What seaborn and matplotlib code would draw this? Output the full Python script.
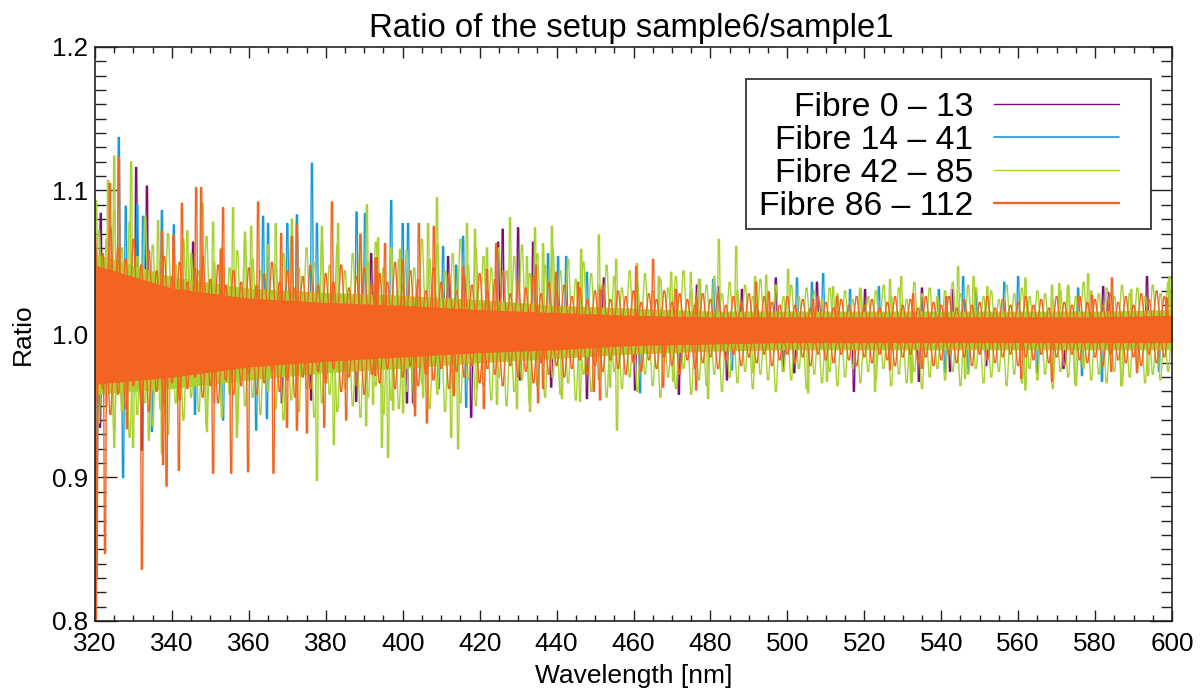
import pandas as pd
import matplotlib
matplotlib.use("Agg")
import matplotlib.pyplot as plt
import seaborn as sns
from matplotlib.lines import Line2D
from matplotlib.patches import Rectangle
from matplotlib.ticker import MultipleLocator

labels = ["Fibre 0 \u2013 13", "Fibre 14 \u2013 41", "Fibre 42 \u2013 85", "Fibre 86 \u2013 112"]
colors = ["#7a0d78", "#189ad8", "#a8d233", "#f36421"]

# solid core of the spectra, read every 20 nm
band_wl = [320, 340, 360, 380, 400, 420, 440, 460, 480, 500, 520, 540, 560, 580, 600]
orange_hi = [1.048, 1.032, 1.025, 1.022, 1.020, 1.017, 1.015, 1.013, 1.012, 1.012, 1.012, 1.012, 1.012, 1.012, 1.013]
orange_lo = [0.965, 0.970, 0.977, 0.981, 0.984, 0.987, 0.989, 0.992, 0.993, 0.994, 0.994, 0.994, 0.994, 0.994, 0.994]
green_hi = [1.056, 1.040, 1.032, 1.029, 1.027, 1.024, 1.020, 1.018, 1.016, 1.016, 1.016, 1.016, 1.016, 1.016, 1.017]
green_lo = [0.958, 0.962, 0.968, 0.973, 0.976, 0.980, 0.983, 0.986, 0.988, 0.989, 0.989, 0.989, 0.989, 0.989, 0.989]

# the jagged mass around the core, read every 2 nm
green_tooth_wl = list(range(321, 601, 2))
orange_tooth_wl = list(range(320, 600, 2))
green_up = [1.072, 1.066, 1.086, 1.060, 1.078, 1.054, 1.082, 1.062, 1.052, 1.070,
            1.048, 1.066, 1.056, 1.044, 1.068, 1.050, 1.060, 1.046, 1.058, 1.066,
            1.052, 1.044, 1.062, 1.048, 1.056, 1.068, 1.046, 1.060, 1.050, 1.064,
            1.048, 1.062, 1.044, 1.056, 1.070, 1.050, 1.064, 1.046, 1.060, 1.052,
            1.058, 1.046, 1.066, 1.052, 1.062, 1.044, 1.056, 1.066, 1.048, 1.060,
            1.054, 1.046, 1.060, 1.044, 1.054, 1.062, 1.042, 1.056, 1.048, 1.060,
            1.044, 1.052, 1.038, 1.050, 1.042, 1.034, 1.048, 1.040, 1.032, 1.044,
            1.036, 1.042, 1.030, 1.038, 1.032, 1.040, 1.044, 1.030, 1.038, 1.034,
            1.040, 1.028, 1.036, 1.030, 1.034, 1.026, 1.038, 1.030, 1.034, 1.026,
            1.034, 1.026, 1.032, 1.030, 1.024, 1.032, 1.028, 1.030, 1.024, 1.032,
            1.026, 1.030, 1.034, 1.026, 1.032, 1.024, 1.036, 1.028, 1.032, 1.026,
            1.030, 1.036, 1.028, 1.034, 1.032, 1.026, 1.030, 1.024, 1.034, 1.028,
            1.032, 1.026, 1.030, 1.028, 1.024, 1.030, 1.034, 1.026, 1.036, 1.030,
            1.028, 1.032, 1.026, 1.034, 1.028, 1.032, 1.026, 1.034, 1.028, 1.036]
green_down = [0.938, 0.950, 0.932, 0.946, 0.928, 0.944, 0.952, 0.936, 0.948, 0.930,
              0.952, 0.940, 0.956, 0.946, 0.936, 0.952, 0.942, 0.958, 0.938, 0.950,
              0.956, 0.944, 0.960, 0.948, 0.940, 0.954, 0.946, 0.962, 0.942, 0.952,
              0.958, 0.946, 0.962, 0.950, 0.942, 0.956, 0.964, 0.944, 0.954, 0.948,
              0.960, 0.950, 0.966, 0.948, 0.958, 0.946, 0.962, 0.952, 0.968, 0.950,
              0.964, 0.954, 0.970, 0.950, 0.960, 0.968, 0.952, 0.964, 0.956, 0.970,
              0.958, 0.966, 0.954, 0.972, 0.960, 0.968, 0.956, 0.974, 0.962, 0.970,
              0.960, 0.972, 0.964, 0.956, 0.970, 0.962, 0.976, 0.958, 0.968, 0.964,
              0.972, 0.960, 0.970, 0.966, 0.974, 0.962, 0.972, 0.968, 0.960, 0.974,
              0.968, 0.976, 0.962, 0.972, 0.966, 0.974, 0.964, 0.970, 0.976, 0.966,
              0.974, 0.968, 0.976, 0.964, 0.972, 0.966, 0.974, 0.962, 0.970, 0.976,
              0.968, 0.974, 0.964, 0.972, 0.976, 0.966, 0.970, 0.974, 0.964, 0.972,
              0.966, 0.976, 0.968, 0.972, 0.962, 0.974, 0.970, 0.964, 0.976, 0.968,
              0.972, 0.966, 0.974, 0.964, 0.970, 0.976, 0.966, 0.972, 0.968, 0.974]
orange_up = [1.068, 1.056, 1.074, 1.060, 1.052, 1.066, 1.048, 1.058, 1.044, 1.054,
             1.040, 1.050, 1.036, 1.046, 1.054, 1.038, 1.048, 1.034, 1.044, 1.036,
             1.046, 1.034, 1.042, 1.050, 1.036, 1.044, 1.032, 1.040, 1.048, 1.034,
             1.042, 1.036, 1.048, 1.032, 1.040, 1.046, 1.034, 1.042, 1.036, 1.050,
             1.034, 1.044, 1.038, 1.030, 1.046, 1.036, 1.042, 1.030, 1.040, 1.034,
             1.042, 1.030, 1.038, 1.044, 1.028, 1.036, 1.032, 1.040, 1.028, 1.036,
             1.030, 1.034, 1.026, 1.032, 1.024, 1.030, 1.034, 1.024, 1.030, 1.026,
             1.030, 1.022, 1.028, 1.024, 1.030, 1.022, 1.028, 1.024, 1.020, 1.028,
             1.024, 1.028, 1.020, 1.026, 1.022, 1.028, 1.020, 1.026, 1.022, 1.020,
             1.026, 1.020, 1.024, 1.018, 1.026, 1.022, 1.018, 1.024, 1.020, 1.026,
             1.020, 1.024, 1.018, 1.022, 1.026, 1.020, 1.024, 1.018, 1.026, 1.022,
             1.020, 1.026, 1.018, 1.024, 1.020, 1.022, 1.026, 1.018, 1.024, 1.020,
             1.022, 1.026, 1.020, 1.024, 1.018, 1.026, 1.022, 1.020, 1.026, 1.022,
             1.024, 1.020, 1.028, 1.022, 1.026, 1.020, 1.028, 1.024, 1.030, 1.026]
orange_down = [0.950, 0.962, 0.944, 0.958, 0.948, 0.964, 0.952, 0.946, 0.960, 0.950,
               0.966, 0.954, 0.962, 0.970, 0.956, 0.964, 0.952, 0.968, 0.958, 0.964,
               0.972, 0.958, 0.966, 0.974, 0.960, 0.968, 0.956, 0.970, 0.962, 0.974,
               0.966, 0.976, 0.960, 0.970, 0.964, 0.958, 0.972, 0.966, 0.976, 0.962,
               0.970, 0.978, 0.964, 0.972, 0.968, 0.976, 0.962, 0.974, 0.970, 0.978,
               0.966, 0.976, 0.972, 0.964, 0.978, 0.970, 0.974, 0.966, 0.980, 0.972,
               0.978, 0.970, 0.976, 0.982, 0.972, 0.978, 0.974, 0.982, 0.976, 0.972,
               0.980, 0.974, 0.982, 0.976, 0.984, 0.978, 0.972, 0.982, 0.976, 0.980,
               0.984, 0.976, 0.982, 0.986, 0.978, 0.984, 0.980, 0.986, 0.978, 0.982,
               0.986, 0.980, 0.984, 0.978, 0.986, 0.982, 0.980, 0.986, 0.982, 0.978,
               0.984, 0.980, 0.986, 0.982, 0.978, 0.984, 0.986, 0.980, 0.984, 0.978,
               0.982, 0.986, 0.980, 0.984, 0.978, 0.986, 0.982, 0.980, 0.984, 0.986,
               0.978, 0.984, 0.982, 0.986, 0.980, 0.984, 0.978, 0.986, 0.982, 0.980,
               0.984, 0.978, 0.986, 0.982, 0.980, 0.984, 0.978, 0.986, 0.980, 0.984]

# spikes standing out of the mass, one (wavelength, ratio) per position
purple_wl = [321.5, 330.7, 333.5, 345.5, 391.8, 426.0, 430.0, 424.8, 433.9, 411.8, 452.3, 476.5, 482.0, 488.2, 497.0,
             507.7, 520.2, 535.0, 542.8, 593.5, 582.1, 583.4, 321.3, 332.2, 368.6, 376.2, 387.9, 417.8, 438.6, 447.9,
             460.4, 402.7, 401.1, 430.5, 471.8, 517.3, 484.3, 498.9, 501.8, 534.2, 571.8, 542.3, 551.7]
purple_ratio = [1.084, 1.116, 1.103, 1.064, 1.056, 1.073, 1.074, 1.064, 1.064, 1.054, 1.039, 1.034, 1.033, 1.031, 1.039,
                1.036, 1.031, 1.032, 1.031, 1.040, 1.033, 1.029, 0.935, 0.919, 0.952, 0.954, 0.953, 0.942, 0.963, 0.955,
                0.961, 0.952, 0.952, 0.968, 0.958, 0.960, 0.968, 0.974, 0.973, 0.967, 0.976, 0.974, 0.978]
blue_wl = [326.2, 376.4, 337.4, 388.0, 390.2, 363.7, 365.0, 370.0, 372.5, 377.7, 332.5, 328.0, 331.0, 340.5, 397.0,
           400.0, 401.4, 415.7, 410.5, 413.9, 437.8, 440.4, 442.5, 447.9, 509.3, 502.5, 506.4, 480.7, 516.3, 523.8,
           539.4, 560.0, 556.4, 545.7, 575.6, 549.0, 320.5, 327.3, 334.8, 346.0, 361.9, 353.3, 364.7, 416.5, 461.7,
           409.4, 541.0, 485.6, 576.6, 581.8, 547.0, 564.9, 596.6]
blue_ratio = [1.137, 1.119, 1.086, 1.085, 1.084, 1.082, 1.077, 1.077, 1.083, 1.077, 1.082, 1.089, 1.090, 1.076, 1.093,
              1.077, 1.077, 1.068, 1.061, 1.048, 1.056, 1.054, 1.054, 1.043, 1.042, 1.039, 1.036, 1.038, 1.031, 1.033,
              1.031, 1.040, 1.036, 1.040, 1.032, 1.032, 0.905, 0.900, 0.932, 0.944, 0.933, 0.940, 0.941, 0.949, 0.959,
              0.962, 0.973, 0.975, 0.971, 0.967, 0.973, 0.973, 0.974]
green_wl = [325.0, 329.4, 323.4, 320.3, 336.4, 348.0, 350.7, 355.9, 360.6, 359.0, 367.0, 371.2, 379.0, 383.2, 390.7,
            344.0, 393.6, 408.9, 406.6, 416.7, 418.8, 427.9, 434.4, 438.8, 421.9, 451.0, 446.4, 436.5, 432.3, 455.5,
            460.9, 466.6, 399.3, 482.2, 486.7, 469.8, 474.9, 491.6, 494.5, 500.2, 511.9, 526.7, 529.6, 544.4, 477.3,
            518.9, 548.4, 561.9, 568.8, 570.7, 578.2, 589.4, 599.3, 552.0, 573.0,
            377.7, 382.1, 349.1, 329.9, 325.0, 337.4, 356.9, 390.5, 334.0, 396.2, 394.6, 414.4, 412.6, 455.7, 446.1,
            441.4, 433.1, 429.7, 419.3, 424.5, 400.1, 392.3, 397.5, 405.3, 453.9, 479.4, 505.4, 522.8, 510.3, 532.2,
            470.3, 491.1, 561.9, 532.2, 586.8, 574.8, 546.2, 593.8]
green_ratio = [1.124, 1.120, 1.107, 1.093, 1.079, 1.091, 1.078, 1.088, 1.075, 1.071, 1.077, 1.080, 1.075, 1.077, 1.090,
               1.072, 1.067, 1.095, 1.077, 1.077, 1.073, 1.081, 1.074, 1.075, 1.060, 1.069, 1.059, 1.063, 1.054, 1.052,
               1.049, 1.040, 1.059, 1.066, 1.061, 1.043, 1.043, 1.040, 1.041, 1.045, 1.033, 1.038, 1.040, 1.047, 1.038,
               1.031, 1.040, 1.039, 1.034, 1.035, 1.042, 1.031, 1.040, 1.033, 1.033,
               0.898, 0.923, 0.932, 0.921, 0.921, 0.917, 0.928, 0.936, 0.926, 0.914, 0.921, 0.920, 0.928, 0.933, 0.953,
               0.955, 0.946, 0.948, 0.962, 0.951, 0.945, 0.951, 0.947, 0.956, 0.963, 0.955, 0.959, 0.960, 0.967, 0.967,
               0.967, 0.973, 0.961, 0.966, 0.964, 0.966, 0.969, 0.971]
orange_wl = [326.2, 323.9, 346.3, 347.6, 342.6, 353.3, 362.4, 381.6, 368.4, 372.5, 337.4, 340.4, 371.2, 352.7, 389.0,
             393.3, 404.2, 408.1, 395.4, 424.3, 465.1, 460.7, 434.7, 439.9, 415.7, 400.0, 421.9, 445.6, 451.3, 393.0,
             491.9, 471.0, 476.3, 495.2, 506.7, 532.7, 541.3, 512.9, 584.4, 579.2, 598.7,
             320.2, 320.4, 322.6, 332.2, 338.6, 337.7, 341.8, 350.7, 355.4, 359.8, 366.4, 369.9, 372.5, 375.1, 379.6,
             385.3, 328.3, 403.2, 406.3, 413.3, 421.1, 435.2, 451.3, 449.7, 392.8, 467.7, 436.5, 476.3, 526.7, 535.0,
             568.8, 560.8, 584.2, 590.9]
orange_ratio = [1.123, 1.105, 1.102, 1.102, 1.091, 1.088, 1.092, 1.092, 1.070, 1.076, 1.072, 1.069, 1.068, 1.059, 1.069,
                1.053, 1.077, 1.075, 1.063, 1.063, 1.052, 1.047, 1.048, 1.043, 1.047, 1.052, 1.045, 1.036, 1.031, 1.053,
                1.036, 1.031, 1.026, 1.029, 1.024, 1.028, 1.026, 1.026, 1.039, 1.027, 1.025,
                0.800, 0.830, 0.847, 0.836, 0.894, 0.909, 0.905, 0.903, 0.903, 0.904, 0.903, 0.935, 0.933, 0.931, 0.935,
                0.940, 0.934, 0.943, 0.938, 0.957, 0.948, 0.952, 0.954, 0.960, 0.971, 0.963, 0.962, 0.961, 0.975, 0.976,
                0.967, 0.969, 0.974, 0.973]


def spike_frame(wl, ratio, half_width):
    # every spike leaves the core and comes back to it, tip about 1 px wide
    rows = []
    for w, r in zip(wl, ratio):
        rows += [(w - half_width, 1.003), (w - 0.15, r), (w + 0.15, r), (w + half_width, 1.003)]
    return pd.DataFrame(rows, columns=["wl", "ratio"])


def draw_spikes(ax, wl, ratio, half_width, color, order):
    sns.lineplot(data=spike_frame(wl, ratio, half_width), x="wl", y="ratio", sort=False, estimator=None,
                 color=color, lw=1.0, ax=ax, zorder=order)


sns.set_theme(style="ticks")
plt.rcParams["font.family"] = ["Liberation Sans", "DejaVu Sans"]

fig, ax = plt.subplots(figsize=(12.04, 6.91), dpi=100)
fig.subplots_adjust(left=95 / 1204, right=1172 / 1204, top=1 - 47 / 691, bottom=1 - 621 / 691)

draw_spikes(ax, purple_wl, purple_ratio, 0.4, colors[0], 2)
draw_spikes(ax, blue_wl, blue_ratio, 0.4, colors[1], 3)
draw_spikes(ax, green_wl, green_ratio, 0.4, colors[2], 4)
draw_spikes(ax, green_tooth_wl, green_up, 0.9, colors[2], 4)
draw_spikes(ax, green_tooth_wl, green_down, 0.9, colors[2], 4)
ax.fill_between(band_wl, green_lo, green_hi, color=colors[2], lw=0, zorder=4)
draw_spikes(ax, orange_wl, orange_ratio, 0.4, colors[3], 6)
draw_spikes(ax, orange_tooth_wl, orange_up, 1.1, colors[3], 6)
draw_spikes(ax, orange_tooth_wl, orange_down, 1.1, colors[3], 6)
ax.fill_between(band_wl, orange_lo, orange_hi, color=colors[3], lw=0, zorder=6)

ax.set_xlim(320, 600)
ax.set_ylim(0.8, 1.2)
ax.xaxis.set_major_locator(MultipleLocator(20))
ax.xaxis.set_minor_locator(MultipleLocator(5))
ax.yaxis.set_major_locator(MultipleLocator(0.1))
ax.yaxis.set_minor_locator(MultipleLocator(0.01))
ax.tick_params(axis="x", which="major", direction="in", top=True, length=8, width=1.0, labelsize=18.7, pad=8,
               color="#222222", labelcolor="black")
ax.tick_params(axis="x", which="minor", direction="in", top=True, length=4, width=1.0, color="#222222")
ax.tick_params(axis="y", which="major", direction="in", right=True, length=16, width=1.0, labelsize=18.7, pad=5,
               color="#222222", labelcolor="black")
ax.tick_params(axis="y", which="minor", direction="in", right=True, length=8, width=1.0, color="#222222")
for s in ax.spines.values():
    s.set_visible(True)
    s.set_linewidth(1.2)
    s.set_color("#222222")
    s.set_zorder(10)

ax.set_title("Ratio of the setup sample6/sample1", fontsize=23.7, color="black", pad=7, x=0.498)
ax.set_xlabel("Wavelength [nm]", fontsize=19, color="black", labelpad=6)
ax.set_ylabel("Ratio", fontsize=19, color="black", labelpad=12)

# legend box is wider on the right than its content, so it is drawn apart
ax.add_patch(Rectangle((746 / 1204, 1 - 229 / 691), 405 / 1204, 150 / 691, transform=fig.transFigure,
                       facecolor="white", edgecolor="#222222", lw=1.2, zorder=19))
handles = [Line2D([], [], color=c, lw=w) for c, w in zip(colors, [1.0, 1.2, 1.0, 1.7])]
leg = ax.legend(handles, labels, loc="upper left", bbox_to_anchor=(759 / 1204, 1 - 92 / 691), bbox_transform=fig.transFigure,
                fontsize=24.2, markerfirst=False, handlelength=3.72, handletextpad=0.6, labelspacing=0.06,
                borderaxespad=0, borderpad=0, frameon=False, labelcolor="black")
leg.set_zorder(20)

plt.savefig("out.png", dpi=100)
plt.close()
